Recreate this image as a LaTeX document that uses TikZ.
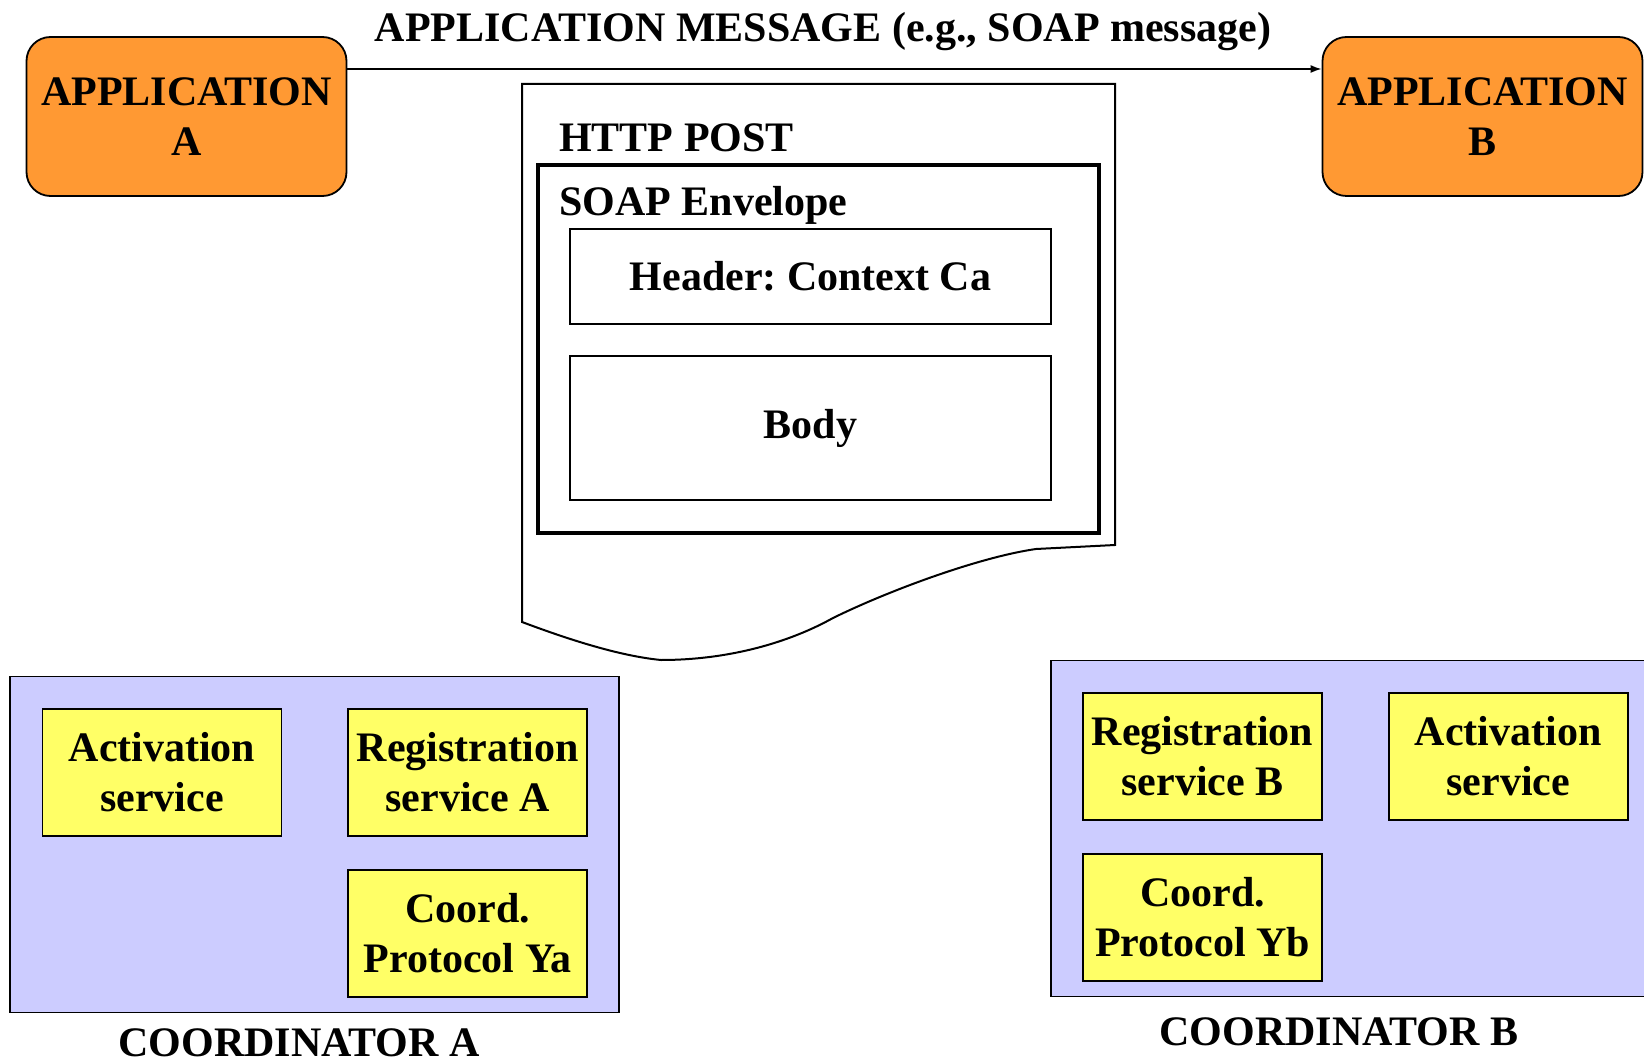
\documentclass[tikz,border=0pt]{standalone}
\usepackage{fontspec}
\setmainfont{Liberation Serif}
\usetikzlibrary{positioning, arrows.meta, calc}
\definecolor{apporange}{HTML}{FF9933}
\definecolor{coordlilac}{HTML}{CCCCFF}
\definecolor{svcyellow}{HTML}{FFFF66}
\frenchspacing

\begin{document}
\begin{tikzpicture}[x=1pt, y=-1pt,
    every node/.style={font=\fontsize{42}{50}\selectfont\bfseries, inner sep=0pt},
    appbox/.style={draw, line width=1.8pt, fill=apporange, rounded corners=24pt, minimum width=320pt, minimum height=159pt, align=center},
    envbox/.style={draw, line width=4.5pt, minimum width=561pt, minimum height=368pt},
    partbox/.style={draw, line width=1.6pt, minimum width=481pt, align=center},
    coordbox/.style={draw, line width=1.8pt, fill=coordlilac, minimum height=336pt},
    svcbox/.style={draw, line width=1.8pt, fill=svcyellow, minimum width=239pt, minimum height=127pt, align=center}]
  \useasboundingbox (0,0) rectangle (1644,1064);
  \clip (0,0) rectangle (1644,1064);

  % applications and the message between them
  \node[appbox] (appA) at (186.5,116.5) {APPLICATION\\A};
  \node[appbox] (appB) at (1482.5,116.5) {APPLICATION\\B};
  \coordinate (msgy) at (0,69);
  \draw[-{Latex[length=11pt, width=8pt]}, line width=1.6pt] (appA.east |- msgy) -- (appB.west |- msgy);
  \node[anchor=base] (msg) at (823,42) {APPLICATION MESSAGE (e.g., SOAP message)};

  % http post document
  \draw[line width=2pt] (522,84) -- (1115,84) -- (1115,545) -- (1036,549)
    .. controls (980,557) and (890,590) .. (833,618)
    .. controls (790,642) and (730,660) .. (661,660)
    .. controls (620,656) and (570,640) .. (522,622) -- cycle;
  \node[anchor=base west] (http) at (559,152) {HTTP POST};
  \node[envbox] (soap) at (818.5,349) {};
  \node[anchor=base west] (soaplbl) at (559,216) {SOAP Envelope};
  \node[partbox, minimum height=95pt] (hdr) at (810.5,276.5) {Header: Context Ca};
  \node[partbox, minimum height=144pt] (body) at (810.5,428) {Body};

  % coordinator A
  \node[coordbox, minimum width=609pt] (coordA) at (314.5,844.5) {};
  \node[svcbox] (actA) at (162,772.5) {Activation\\service};
  \node[svcbox, right=65pt of actA] (regA) {Registration\\service A};
  \node[svcbox, below=32pt of regA] (protA) {Coord.\\Protocol Ya};
  \node[anchor=base] (lblA) at (299,1056) {COORDINATOR A};

  % coordinator B
  \node[coordbox, minimum width=610pt] (coordB) at (1356,828.5) {};
  \node[svcbox] (regB) at (1202.5,756.5) {Registration\\service B};
  \node[svcbox, right=65pt of regB] (actB) {Activation\\service};
  \node[svcbox, below=32pt of regB] (protB) {Coord.\\Protocol Yb};
  \node[anchor=base] (lblB) at (1339,1045) {COORDINATOR B};
\end{tikzpicture}
\end{document}
